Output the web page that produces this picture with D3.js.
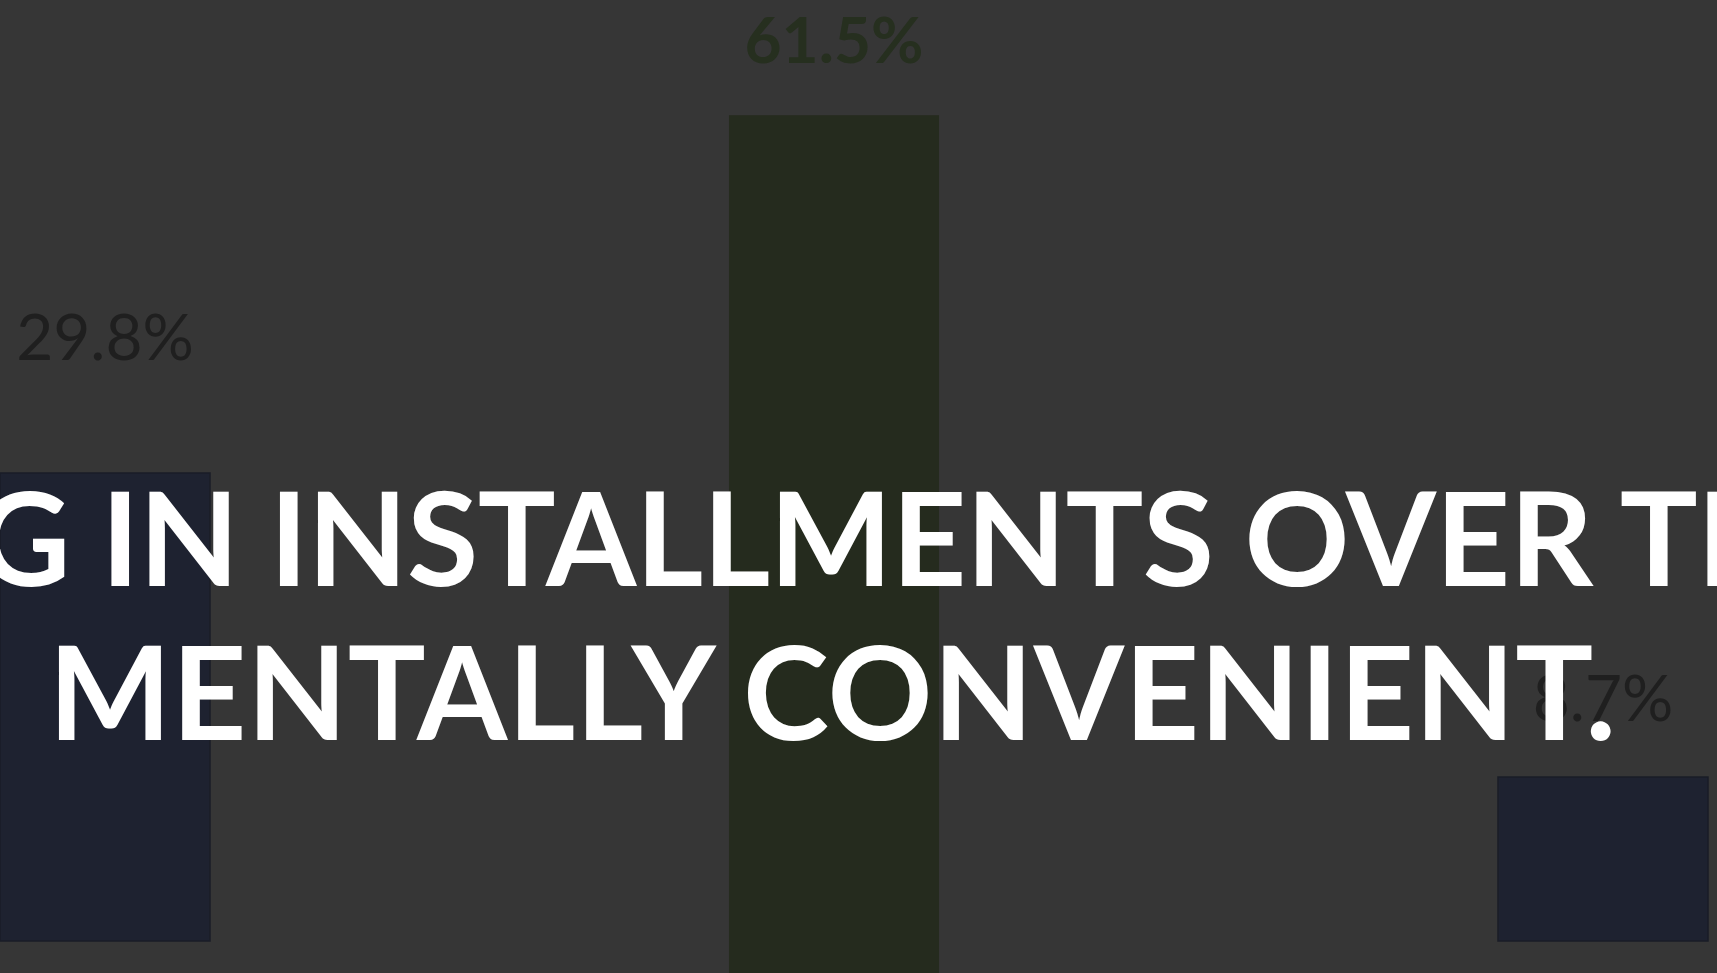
<!DOCTYPE html>
<html>
<head>
<meta charset="utf-8">
<script src="https://cdn.jsdelivr.net/npm/d3@7"></script>
<style>
  html, body { margin: 0; padding: 0; background: #363636; overflow: hidden; }
  svg { display: block; }
</style>
</head>
<body>
<svg id="chart" width="1717" height="973"></svg>
<script>
// Survey shares, in percent
const categories = ["Cheaper", "Mentally convenient", "No difference"];
const shares = [29.8, 61.5, 8.7];
const labels = ["29.8%", "61.5%", "8.7%"];
const highlighted = "Mentally convenient";

// Headline shown over the dimmed chart
const headlineLines = ["PAYING IN INSTALLMENTS OVER TIME IS", "MENTALLY CONVENIENT."];

const W = 1717, H = 973;
const svg = d3.select("#chart");

// Background (dimmed)
svg.append("rect").attr("width", W).attr("height", H).attr("fill", "#363636");

const x = d3.scaleBand()
  .domain(categories)
  .range([0, 1708])
  .paddingInner(0.7196)
  .paddingOuter(0);

const baseline = 941;
const yMin = -2.68;
const y = d3.scaleLinear()
  .domain([yMin, 29.8])
  .range([baseline, 473]);

// the highlighted bar is mid-animation: nudged left and sitting lower than the rest
const focusShift = { dx: -20, dy: 99 };
const labelGap = { "Cheaper": 113, "Mentally convenient": 52, "No difference": 56 };

const barFill = d => d === highlighted ? "#252b1e" : "#1e2230";
const barStroke = d => d === highlighted ? "none" : "#1a1d27";
const labelFill = d => d === highlighted ? "#262f1f" : "#1f1f1f";

const data = categories.map((c, i) => ({ c, v: shares[i], label: labels[i] }));

const bars = svg.append("g").selectAll("g.bar")
  .data(data)
  .join("g")
  .attr("class", "bar")
  .attr("transform", d => d.c === highlighted
    ? `translate(${focusShift.dx},${focusShift.dy})`
    : null);

bars.append("rect")
  .attr("x", d => x(d.c))
  .attr("width", x.bandwidth())
  .attr("y", d => y(d.v))
  .attr("height", d => y(yMin) - y(d.v))
  .attr("fill", d => barFill(d.c))
  .attr("stroke", d => barStroke(d.c))
  .attr("stroke-width", 1.5);

bars.append("text")
  .attr("x", d => x(d.c) + x.bandwidth() / 2)
  .attr("y", d => y(d.v) - labelGap[d.c])
  .attr("text-anchor", "middle")
  .attr("font-family", "Lato, sans-serif")
  .attr("font-size", 64)
  .attr("font-weight", d => d.c === highlighted ? 700 : 400)
  .attr("fill", d => labelFill(d.c))
  .text(d => d.label);

// Headline
const head = svg.append("g")
  .attr("font-family", "Lato, sans-serif")
  .attr("font-weight", 700)
  .attr("font-size", 130)
  .attr("fill", "#ffffff")
  .attr("text-anchor", "middle");

const lineX = [836.5, 832.5];
const lineTracking = [-0.6, 0.5];
head.selectAll("text")
  .data(headlineLines)
  .join("text")
  .attr("x", (d, i) => lineX[i])
  .attr("y", (d, i) => 586 + i * 153.5)
  .attr("letter-spacing", (d, i) => lineTracking[i])
  .text(d => d);
</script>
</body>
</html>
